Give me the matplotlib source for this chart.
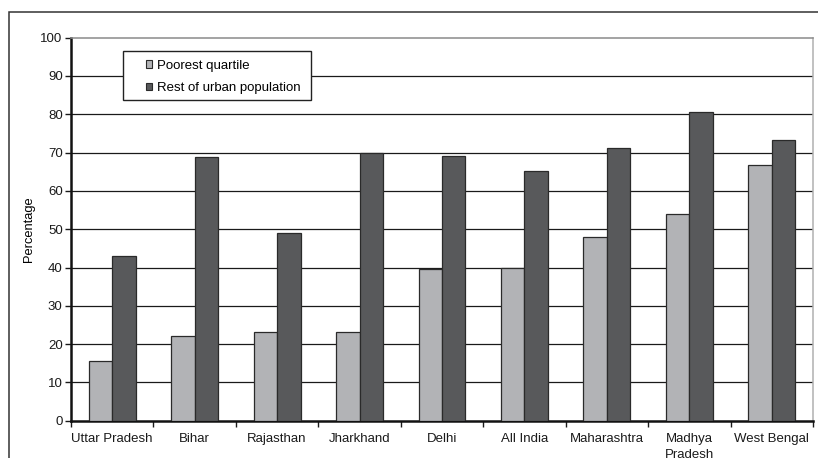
import numpy as np
import matplotlib
matplotlib.use("Agg")
import matplotlib.pyplot as plt
from matplotlib.patches import Rectangle

plt.rcParams['font.family'] = ['Liberation Sans', 'DejaVu Sans']

states = ["Uttar Pradesh", "Bihar", "Rajasthan", "Jharkhand", "Delhi",
          "All India", "Maharashtra", "Madhya\nPradesh", "West Bengal"]
poorest = [15.5, 22.2, 23.1, 23.1, 39.5, 39.9, 47.9, 53.9, 66.8]
rest_urban = [43.0, 68.9, 49.1, 69.9, 69.2, 65.2, 71.3, 80.7, 73.4]
series_names = ["Poorest quartile", "Rest of urban population"]
y_ticks = list(range(0, 101, 10))

light = "#b2b3b6"
dark = "#58595b"
edge = "#2a2a2a"
fs = 9.5

fig = plt.figure(figsize=(8.18, 4.58), dpi=100)
ax = fig.add_axes([71/818, 1 - 420.7/458, 742/818, 383/458])

x = np.arange(len(states))
w = 0.285
ax.bar(x - w/2, poorest, w, color=light, edgecolor=edge, linewidth=0.9,
       label=series_names[0], zorder=3)
ax.bar(x + w/2, rest_urban, w, color=dark, edgecolor=edge, linewidth=0.9,
       label=series_names[1], zorder=3)

ax.set_xlim(-0.5, len(states) - 0.5)
ax.set_ylim(0, 100)

# gridlines (no line at 0, top edge is the plot border)
for v in y_ticks[1:-1]:
    ax.axhline(v, color="#1a1a1a", linewidth=0.9, zorder=1)

ax.set_yticks(y_ticks)
ax.tick_params(axis="y", direction="out", length=4, width=1, pad=2,
               labelsize=fs, colors="#1a1a1a")
ax.set_xticks(x)
ax.set_xticklabels(states, fontsize=fs, linespacing=1.45)
ax.set_xticks(np.arange(-0.5, len(states)), minor=True)
ax.tick_params(axis="x", which="major", length=0, pad=8.5, colors="#1a1a1a")
ax.tick_params(axis="x", which="minor", direction="out", length=4, width=1,
               colors="#1a1a1a")

ax.spines["left"].set_linewidth(1.8)
ax.spines["left"].set_color("#111111")
ax.spines["bottom"].set_linewidth(1.8)
ax.spines["bottom"].set_color("#111111")
ax.spines["top"].set_color("#8a8a8a")
ax.spines["top"].set_linewidth(1.1)
ax.spines["right"].set_color("#b0b0b0")
ax.spines["right"].set_linewidth(1.1)

ax.set_ylabel("Percentage", fontsize=9.3, labelpad=4)

# legend box drawn separately (wide left padding in the original)
ax.add_patch(Rectangle((0.0701, 0.8373), 0.2534, 0.128, transform=ax.transAxes,
                       facecolor="white", edgecolor="#222222", linewidth=1.0,
                       zorder=4))
leg = ax.legend(loc="center left", bbox_to_anchor=(0.1011, 0.898),
                fontsize=fs, frameon=False,
                handlelength=0.48, handleheight=0.48, handletextpad=0.32,
                labelspacing=0.78, borderpad=0, borderaxespad=0)
for h in leg.legend_handles:
    h.set_linewidth(0.8)
leg.set_zorder(5)

# outer frame around the figure, cut off at right and bottom
fig.patches.append(Rectangle((9/818, -0.2), 1.0, (1 - 12/458) + 0.2,
                             transform=fig.transFigure, fill=False,
                             edgecolor="#333333", linewidth=1.1))

fig.savefig("out.png", dpi=100)
